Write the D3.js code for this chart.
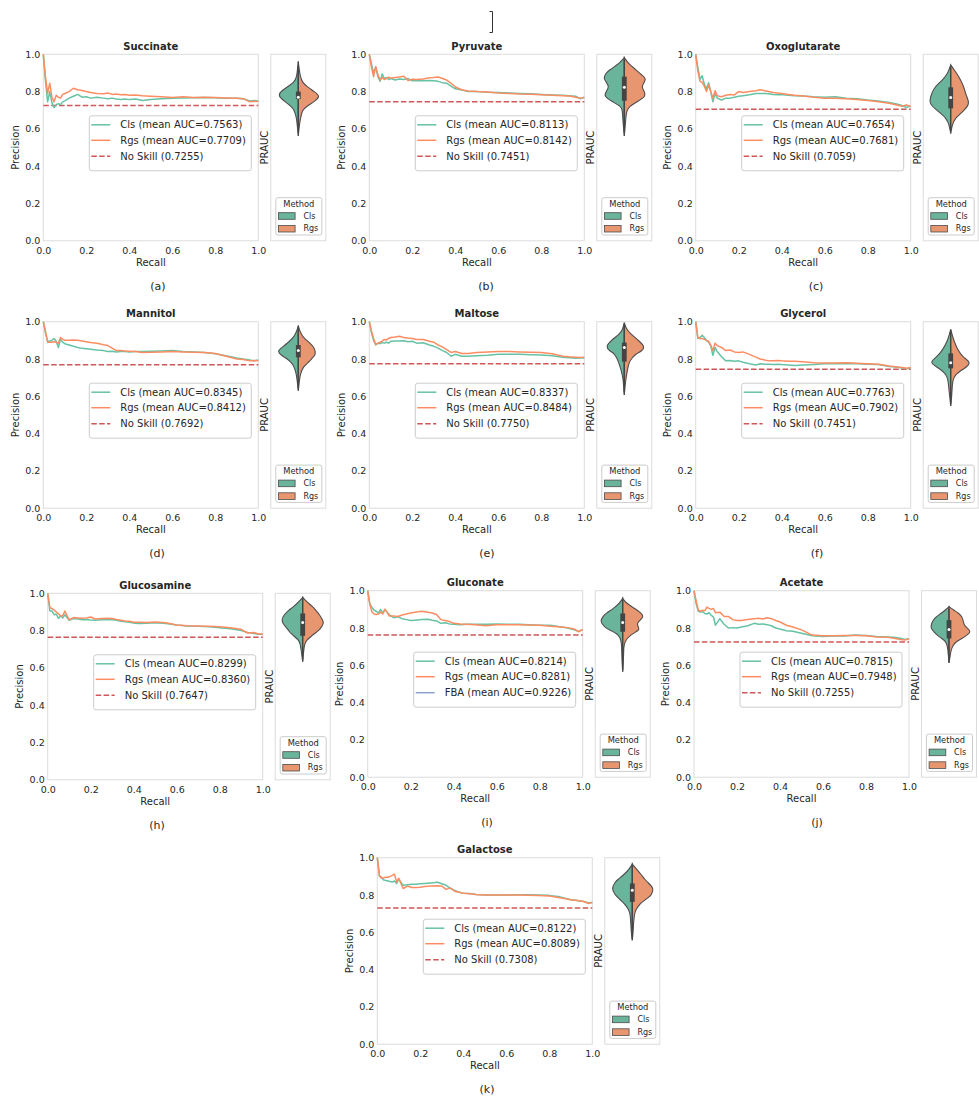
<!DOCTYPE html>
<html>
<head>
<meta charset="utf-8">
<script src="https://cdn.jsdelivr.net/npm/d3@7"></script>
<style>
  body { margin: 0; background: #fff; }
  svg { display: block; }
  text { font-family: "DejaVu Sans", sans-serif; fill: #262626; }
</style>
</head>
<body>
<svg id="fig" width="979" height="1099"></svg>
<script>
// ---------------- data ----------------
const recallGrid = [0, 0.01, 0.02, 0.03, 0.04, 0.05, 0.06, 0.07, 0.08, 0.09,
  0.10, 0.12, 0.14, 0.16, 0.18, 0.20, 0.22, 0.25, 0.28, 0.30,
  0.32, 0.34, 0.36, 0.38, 0.40, 0.43, 0.46, 0.50, 0.55, 0.60,
  0.65, 0.70, 0.75, 0.80, 0.85, 0.90, 0.93, 0.96, 0.98, 1.0];

const titles = ["Succinate", "Pyruvate", "Oxoglutarate", "Mannitol", "Maltose",
  "Glycerol", "Glucosamine", "Gluconate", "Acetate", "Galactose"];
const captions = ["(a)", "(b)", "(c)", "(d)", "(e)", "(f)", "(h)", "(i)", "(j)", "(k)"];

const clsAuc = [0.7563, 0.8113, 0.7654, 0.8345, 0.8337, 0.7763, 0.8299, 0.8214, 0.7815, 0.8122];
const rgsAuc = [0.7709, 0.8142, 0.7681, 0.8412, 0.8484, 0.7902, 0.8360, 0.8281, 0.7948, 0.8089];
const noSkill = [0.7255, 0.7451, 0.7059, 0.7692, 0.7750, 0.7451, 0.7647, 0.7620, 0.7255, 0.7308];
const fbaAuc = [null, null, null, null, null, null, null, 0.9226, null, null];

const succinateCls = [1.0,0.86,0.745,0.80,0.74,0.715,0.73,0.735,0.73,0.745, 0.75,0.765,0.775,0.785,0.77,0.772,0.765,0.77,0.765,0.762, 0.765,0.76,0.758,0.76,0.757,0.76,0.752,0.757,0.762,0.765, 0.766,0.767,0.768,0.767,0.765,0.765,0.762,0.75,0.752,0.75];
const succinateRgs = [1.0,0.88,0.79,0.845,0.77,0.745,0.78,0.77,0.765,0.785, 0.79,0.80,0.818,0.81,0.806,0.80,0.795,0.79,0.788,0.792, 0.785,0.787,0.783,0.785,0.78,0.782,0.778,0.775,0.772,0.768, 0.772,0.768,0.77,0.768,0.766,0.765,0.762,0.745,0.748,0.747];

const pyruvateCls = [1.0,0.95,0.90,0.93,0.88,0.855,0.895,0.87,0.875,0.865, 0.87,0.862,0.868,0.865,0.87,0.858,0.86,0.858,0.86,0.858, 0.855,0.848,0.845,0.83,0.815,0.808,0.80,0.80,0.797,0.795, 0.792,0.79,0.788,0.785,0.782,0.78,0.778,0.775,0.762,0.77];
const pyruvateRgs = [1.0,0.93,0.88,0.935,0.89,0.862,0.875,0.865,0.87,0.878, 0.872,0.876,0.878,0.882,0.86,0.866,0.865,0.868,0.874,0.875, 0.878,0.87,0.862,0.845,0.825,0.81,0.803,0.80,0.798,0.793, 0.79,0.787,0.786,0.783,0.78,0.778,0.776,0.77,0.765,0.768];

const oxoglutarateCls = [1.0,0.93,0.865,0.885,0.84,0.815,0.848,0.80,0.745,0.79, 0.765,0.755,0.765,0.765,0.77,0.775,0.778,0.783,0.79,0.79, 0.79,0.788,0.785,0.783,0.785,0.78,0.778,0.776,0.772,0.77, 0.772,0.765,0.762,0.755,0.75,0.742,0.735,0.725,0.715,0.722];
const oxoglutarateRgs = [1.0,0.91,0.855,0.85,0.83,0.80,0.835,0.80,0.765,0.805, 0.778,0.772,0.78,0.785,0.782,0.80,0.795,0.80,0.805,0.81, 0.805,0.80,0.795,0.792,0.79,0.785,0.78,0.777,0.77,0.765, 0.765,0.762,0.758,0.752,0.745,0.738,0.73,0.722,0.728,0.72];

const mannitolCls = [1.0,0.94,0.895,0.895,0.90,0.91,0.895,0.862,0.905,0.89, 0.882,0.875,0.868,0.862,0.857,0.855,0.852,0.848,0.845,0.84, 0.842,0.838,0.84,0.84,0.838,0.84,0.84,0.842,0.843,0.845, 0.84,0.838,0.835,0.828,0.818,0.805,0.80,0.795,0.79,0.795];
const mannitolRgs = [1.0,0.95,0.89,0.89,0.89,0.893,0.89,0.885,0.915,0.905, 0.90,0.90,0.902,0.90,0.896,0.893,0.888,0.884,0.876,0.872, 0.858,0.845,0.845,0.843,0.842,0.84,0.835,0.836,0.838,0.84, 0.838,0.836,0.835,0.83,0.815,0.80,0.797,0.79,0.792,0.79];

const maltoseCls = [1.0,0.94,0.90,0.875,0.885,0.883,0.888,0.885,0.89,0.885, 0.895,0.897,0.896,0.898,0.892,0.895,0.885,0.887,0.875,0.868, 0.858,0.845,0.835,0.815,0.825,0.815,0.815,0.818,0.82,0.825, 0.825,0.825,0.823,0.822,0.818,0.81,0.807,0.804,0.805,0.805];
const maltoseRgs = [1.0,0.95,0.91,0.878,0.885,0.89,0.895,0.905,0.902,0.91, 0.915,0.918,0.922,0.915,0.912,0.91,0.905,0.905,0.895,0.89, 0.875,0.865,0.85,0.835,0.84,0.83,0.83,0.835,0.838,0.84, 0.84,0.838,0.836,0.835,0.828,0.815,0.812,0.81,0.808,0.81];

const glycerolCls = [1.0,0.91,0.915,0.928,0.915,0.90,0.89,0.87,0.82,0.862, 0.84,0.812,0.79,0.792,0.788,0.79,0.783,0.775,0.768,0.775, 0.772,0.772,0.77,0.772,0.77,0.768,0.765,0.768,0.77,0.775, 0.775,0.776,0.774,0.772,0.77,0.76,0.757,0.752,0.748,0.752];
const glycerolRgs = [1.0,0.915,0.91,0.91,0.905,0.90,0.895,0.875,0.845,0.885, 0.872,0.862,0.845,0.848,0.838,0.835,0.838,0.825,0.81,0.80, 0.795,0.79,0.79,0.792,0.79,0.788,0.788,0.785,0.78,0.778, 0.778,0.78,0.777,0.775,0.772,0.762,0.758,0.755,0.75,0.755];

const glucosamineCls = [1.0,0.905,0.905,0.885,0.888,0.865,0.88,0.868,0.885,0.87, 0.855,0.865,0.862,0.858,0.86,0.857,0.855,0.858,0.86,0.858, 0.855,0.85,0.848,0.845,0.84,0.838,0.84,0.842,0.838,0.83, 0.825,0.823,0.82,0.815,0.81,0.80,0.79,0.785,0.78,0.78];
const glucosamineRgs = [1.0,0.925,0.918,0.91,0.90,0.89,0.878,0.88,0.905,0.88, 0.858,0.87,0.868,0.866,0.868,0.873,0.862,0.865,0.866,0.865, 0.86,0.856,0.852,0.85,0.845,0.845,0.844,0.846,0.842,0.83, 0.826,0.825,0.823,0.82,0.815,0.807,0.787,0.79,0.782,0.782];

const gluconateCls = [1.0,0.93,0.91,0.895,0.89,0.88,0.90,0.88,0.90,0.885, 0.872,0.855,0.86,0.85,0.845,0.84,0.842,0.845,0.847,0.842, 0.838,0.825,0.828,0.822,0.82,0.818,0.82,0.82,0.82,0.822, 0.82,0.82,0.818,0.815,0.815,0.805,0.80,0.79,0.782,0.79];
const gluconateRgs = [1.0,0.925,0.885,0.875,0.872,0.875,0.885,0.875,0.90,0.885, 0.865,0.865,0.862,0.87,0.875,0.88,0.885,0.89,0.885,0.88, 0.872,0.845,0.84,0.835,0.825,0.822,0.82,0.818,0.812,0.818, 0.818,0.818,0.816,0.815,0.81,0.805,0.802,0.795,0.78,0.792];

const acetateCls = [1.0,0.93,0.89,0.885,0.888,0.878,0.875,0.882,0.868,0.86, 0.815,0.85,0.82,0.80,0.802,0.80,0.805,0.812,0.825,0.82, 0.822,0.818,0.812,0.80,0.795,0.785,0.782,0.772,0.758,0.755, 0.757,0.757,0.762,0.76,0.755,0.752,0.75,0.745,0.738,0.742];
const acetateRgs = [1.0,0.945,0.895,0.89,0.895,0.892,0.912,0.905,0.90,0.905, 0.882,0.885,0.862,0.862,0.845,0.84,0.84,0.845,0.85,0.852, 0.848,0.855,0.85,0.84,0.832,0.815,0.805,0.79,0.762,0.758, 0.758,0.76,0.76,0.758,0.752,0.75,0.745,0.738,0.735,0.742];

const galactoseCls = [1.0,0.90,0.895,0.88,0.878,0.875,0.872,0.87,0.875,0.862, 0.885,0.852,0.855,0.857,0.858,0.86,0.862,0.865,0.868,0.86, 0.852,0.835,0.825,0.815,0.81,0.808,0.803,0.80,0.80,0.80, 0.802,0.802,0.80,0.798,0.79,0.775,0.77,0.765,0.758,0.76];
const galactoseRgs = [1.0,0.905,0.89,0.892,0.895,0.895,0.90,0.905,0.912,0.87, 0.89,0.835,0.848,0.84,0.84,0.842,0.845,0.848,0.85,0.848, 0.83,0.838,0.82,0.815,0.81,0.807,0.803,0.80,0.80,0.80, 0.80,0.798,0.797,0.795,0.785,0.775,0.77,0.765,0.755,0.76];

const clsCurves = [succinateCls, pyruvateCls, oxoglutarateCls, mannitolCls, maltoseCls,
  glycerolCls, glucosamineCls, gluconateCls, acetateCls, galactoseCls];
const rgsCurves = [succinateRgs, pyruvateRgs, oxoglutarateRgs, mannitolRgs, maltoseRgs,
  glycerolRgs, glucosamineRgs, gluconateRgs, acetateRgs, galactoseRgs];

// PRAUC distributions: [PRAUC level, Cls density, Rgs density], top to bottom
const succinateViolin = [[0.962,0,0],[0.93,0.6,0.6],[0.88,1.5,2],[0.85,4,4],[0.825,11,9],[0.80,18,16],[0.775,20,22],[0.75,14,17],[0.72,7,8],[0.70,4,4],[0.665,2,2.5],[0.62,1,1],[0.562,0,0]];
const pyruvateViolin = [[0.982,0,0],[0.95,5,4],[0.916,15,12],[0.895,19,16],[0.871,20.7,22],[0.85,18,20],[0.826,15,17],[0.80,18,20],[0.776,20.7,22],[0.746,12,13],[0.72,3,5],[0.70,2,2.5],[0.66,1.5,1.5],[0.62,1,1],[0.562,0,0]];
const oxoglutarateViolin = [[0.943,0,0],[0.92,1.5,3],[0.898,3,6],[0.862,8,10],[0.826,16,13],[0.79,19,15],[0.773,20,16],[0.737,21.7,19],[0.70,14,14],[0.657,4,4],[0.62,1.5,1.5],[0.576,0,0]];
const mannitolViolin = [[0.979,0,0],[0.95,1.5,1.5],[0.92,4,4],[0.884,11,12],[0.86,17,16],[0.84,21,17],[0.82,17,17],[0.80,11,13],[0.786,8,11],[0.76,4,5],[0.72,2,2],[0.68,1,1],[0.63,0,0]];
const maltoseViolin = [[0.995,0,0],[0.96,1.5,2],[0.9375,4,6],[0.90,13,14],[0.866,19,21],[0.84,14,17],[0.83,10,12],[0.80,7,7],[0.786,6,5],[0.74,3,3],[0.69,1,1.5],[0.65,0.7,0.7],[0.607,0,0]];
const glycerolViolin = [[0.959,0,0],[0.93,1.5,1.5],[0.90,3,3],[0.848,8,7],[0.81,14,12],[0.78,22,21],[0.75,11,14],[0.716,4,4],[0.68,2.5,2],[0.65,2,1.5],[0.60,1,1],[0.548,0,0]];
const glucosamineViolin = [[0.978,0,0],[0.955,4,4],[0.928,9,10],[0.91,14,13],[0.884,19,17],[0.857,21,20],[0.84,20,21],[0.82,17,19],[0.80,14,16],[0.785,12,12],[0.767,8,8],[0.749,4,4],[0.73,2.5,2],[0.695,1.5,1],[0.633,0,0]];
const gluconateViolin = [[0.959,0,0],[0.935,3,3],[0.905,9,12],[0.878,17,19],[0.86,20,21],[0.84,22,17],[0.824,21,14],[0.80,17,16],[0.789,13,17],[0.762,3,7],[0.726,1.5,2],[0.70,1,1],[0.63,0.8,0.8],[0.565,0,0]];
const acetateViolin = [[0.914,0,0],[0.895,4,5],[0.878,8,10],[0.86,13,13],[0.842,16,14],[0.815,18,15],[0.797,18,19],[0.78,15,22],[0.762,12,18],[0.744,7,13],[0.726,3,7],[0.708,2,4],[0.68,1,2],[0.663,0.8,1.5],[0.613,0,0]];
const galactoseViolin = [[0.966,0,0],[0.94,3,4],[0.916,7,8],[0.88,15,13],[0.87,17,15],[0.835,21,22],[0.80,17,19],[0.79,15,17],[0.763,10,10],[0.754,8,8],[0.718,3,3],[0.69,2,2],[0.646,1.5,1.2],[0.60,1,0.8],[0.557,0,0]];
const violins = [succinateViolin, pyruvateViolin, oxoglutarateViolin, mannitolViolin, maltoseViolin,
  glycerolViolin, glucosamineViolin, gluconateViolin, acetateViolin, galactoseViolin];

// [whisker low, q1, median, q3, whisker high]
const boxStats = [
  [0.58, 0.76, 0.77, 0.80, 0.94],
  [0.58, 0.751, 0.823, 0.88, 0.97],
  [0.59, 0.71, 0.769, 0.823, 0.93],
  [0.64, 0.809, 0.845, 0.875, 0.97],
  [0.62, 0.786, 0.861, 0.888, 0.985],
  [0.56, 0.75, 0.78, 0.83, 0.95],
  [0.645, 0.772, 0.844, 0.892, 0.97],
  [0.575, 0.78, 0.83, 0.878, 0.95],
  [0.62, 0.744, 0.792, 0.842, 0.905],
  [0.565, 0.763, 0.826, 0.862, 0.955]
];

const tickValues = [0, 0.2, 0.4, 0.6, 0.8, 1.0];

// ---------------- layout ----------------
// top-left corner of each PR plot area, and the x centre of its caption
const panelOrigins = [
  [43.3, 54.3], [369.3, 54.3], [695.7, 54.3],
  [43.3, 321.7], [369.3, 321.7], [695.7, 321.7],
  [47.7, 593.3], [367.7, 590.7], [694, 590.7],
  [377.3, 857.7]
];
const captionX = [158, 486, 816, 157, 487, 817, 157, 487, 817, 487];

const W = 215, H = 186.5, VGAP = 12.5, VW = 55;
const COL = {
  cls: "#66c2a5", rgs: "#fc8d62", skill: "#cf5757", fba: "#8da0cb",
  clsFill: "#6ab49b", rgsFill: "#e8966f", edge: "#4d4d4d", frame: "#dcdcdc"
};
const FONT = "DejaVu Sans";

const svg = d3.select("#fig");

// small bracket mark at the top of the page
svg.append("path")
  .attr("d", "M489.5,11.5 H492.5 V32.5 H489.5")
  .attr("fill", "none").attr("stroke", "#333").attr("stroke-width", 1);

const x = d3.scaleLinear().domain([0, 1]).range([0, W]);
const y = d3.scaleLinear().domain([0, 1]).range([H, 0]);
const dens = d3.scaleLinear().domain([0, 22]).range([0, 0.4 * VW]);

const prLine = d3.line()
  .x((d, k) => x(recallGrid[k]))
  .y(d => y(d));

panelOrigins.forEach(([px, py], i) => {
  const g = svg.append("g").attr("transform", `translate(${px},${py})`);

  // plot frame
  g.append("rect").attr("width", W).attr("height", H)
    .attr("fill", "#fff").attr("stroke", COL.frame).attr("stroke-width", 1);

  // axes
  const gx = g.append("g").attr("transform", `translate(0,${H})`)
    .call(d3.axisBottom(x).tickValues(tickValues).tickFormat(d3.format(".1f")).tickSize(0).tickPadding(6.5));
  const gy = g.append("g")
    .call(d3.axisLeft(y).tickValues(tickValues).tickFormat(d3.format(".1f")).tickSize(0).tickPadding(3));
  [gx, gy].forEach(a => {
    a.select(".domain").remove();
    a.attr("font-family", FONT).attr("font-size", 9.5);
    a.selectAll("text").attr("fill", "#333");
  });

  // no-skill baseline
  g.append("line")
    .attr("x1", x(0)).attr("x2", x(1))
    .attr("y1", y(noSkill[i])).attr("y2", y(noSkill[i]))
    .attr("stroke", COL.skill).attr("stroke-width", 1.5)
    .attr("stroke-dasharray", "5.5,2.4");

  // precision-recall curves
  g.append("path").datum(clsCurves[i]).attr("d", prLine)
    .attr("fill", "none").attr("stroke", COL.cls).attr("stroke-width", 1.5)
    .attr("stroke-linejoin", "round");
  g.append("path").datum(rgsCurves[i]).attr("d", prLine)
    .attr("fill", "none").attr("stroke", COL.rgs).attr("stroke-width", 1.5)
    .attr("stroke-linejoin", "round");

  // title and axis labels
  g.append("text").attr("x", W / 2).attr("y", -4.7).attr("text-anchor", "middle")
    .attr("font-size", 10).attr("font-weight", "bold").text(titles[i]);
  g.append("text").attr("x", W / 2).attr("y", H + 25).attr("text-anchor", "middle")
    .attr("font-size", 10).text("Recall");
  g.append("text").attr("transform", `translate(-28.3,${H / 2}) rotate(-90)`)
    .attr("text-anchor", "middle").attr("dy", "0.35em")
    .attr("font-size", 10).text("Precision");

  // caption under the panel
  svg.append("text").attr("x", captionX[i]).attr("y", py + H + 49)
    .attr("text-anchor", "middle").attr("font-size", 11).text(captions[i]);

  // legend
  const entries = [
    { label: `Cls (mean AUC=${clsAuc[i].toFixed(4)})`, color: COL.cls, dash: null },
    { label: `Rgs (mean AUC=${rgsAuc[i].toFixed(4)})`, color: COL.rgs, dash: null }
  ];
  if (fbaAuc[i] != null) {
    entries.push({ label: `FBA (mean AUC=${fbaAuc[i].toFixed(4)})`, color: COL.fba, dash: null });
  } else {
    entries.push({ label: `No Skill (${noSkill[i].toFixed(4)})`, color: COL.skill, dash: "5.5,2.4" });
  }
  const lg = g.append("g").attr("transform", `translate(${W - 7 - 162},61.5)`);
  lg.append("rect").attr("width", 162).attr("height", 55).attr("rx", 2.5)
    .attr("fill", "#fff").attr("fill-opacity", 0.85)
    .attr("stroke", "#cccccc").attr("stroke-width", 1);
  const rowY = [9, 24.5, 40.5];
  entries.forEach((e, k) => {
    lg.append("line").attr("x1", 2).attr("x2", 21).attr("y1", rowY[k]).attr("y2", rowY[k])
      .attr("stroke", e.color).attr("stroke-width", 1.5)
      .attr("stroke-dasharray", e.dash);
    lg.append("text").attr("x", 31).attr("y", rowY[k]).attr("dy", "0.35em")
      .attr("font-size", 10).text(e.label);
  });

  // ---------- split violin of PRAUC ----------
  const vg = g.append("g").attr("transform", `translate(${W + VGAP},0)`);
  vg.append("rect").attr("width", VW).attr("height", H)
    .attr("fill", "#fff").attr("stroke", COL.frame).attr("stroke-width", 1);
  const cx = VW / 2;
  const leftHalf = d3.area().curve(d3.curveBasis)
    .y(d => y(d[0])).x0(cx).x1(d => cx - dens(d[1]));
  const rightHalf = d3.area().curve(d3.curveBasis)
    .y(d => y(d[0])).x0(cx).x1(d => cx + dens(d[2]));
  vg.append("path").datum(violins[i]).attr("d", leftHalf)
    .attr("fill", COL.clsFill).attr("stroke", COL.edge).attr("stroke-width", 1.1);
  vg.append("path").datum(violins[i]).attr("d", rightHalf)
    .attr("fill", COL.rgsFill).attr("stroke", COL.edge).attr("stroke-width", 1.1);

  const [lo, q1, med, q3, hi] = boxStats[i];
  vg.append("line").attr("x1", cx).attr("x2", cx).attr("y1", y(lo)).attr("y2", y(hi))
    .attr("stroke", "#444").attr("stroke-width", 1.2);
  vg.append("rect").attr("x", cx - 2.4).attr("width", 4.8)
    .attr("y", y(q3)).attr("height", y(q1) - y(q3)).attr("fill", "#444");
  vg.append("circle").attr("cx", cx).attr("cy", y(med)).attr("r", 1.5).attr("fill", "#fff");

  vg.append("text").attr("transform", `translate(-6,${H / 2}) rotate(-90)`)
    .attr("text-anchor", "middle").attr("dy", "0.35em")
    .attr("font-size", 10).text("PRAUC");

  // method legend
  const ml = vg.append("g").attr("transform", "translate(5,143.4)");
  ml.append("rect").attr("width", 46).attr("height", 37.3).attr("rx", 2)
    .attr("fill", "#fff").attr("stroke", "#cccccc").attr("stroke-width", 1);
  ml.append("text").attr("x", 23).attr("y", 6).attr("dy", "0.35em")
    .attr("text-anchor", "middle").attr("font-size", 8.3).text("Method");
  [["Cls", COL.clsFill, 18.3], ["Rgs", COL.rgsFill, 31]].forEach(([name, fill, cy]) => {
    ml.append("rect").attr("x", 2.6).attr("y", cy - 3.3).attr("width", 16.7).attr("height", 6.6)
      .attr("fill", fill).attr("stroke", COL.edge).attr("stroke-width", 0.8);
    ml.append("text").attr("x", 27.6).attr("y", cy).attr("dy", "0.35em")
      .attr("font-size", 8).text(name);
  });
});
</script>
</body>
</html>
